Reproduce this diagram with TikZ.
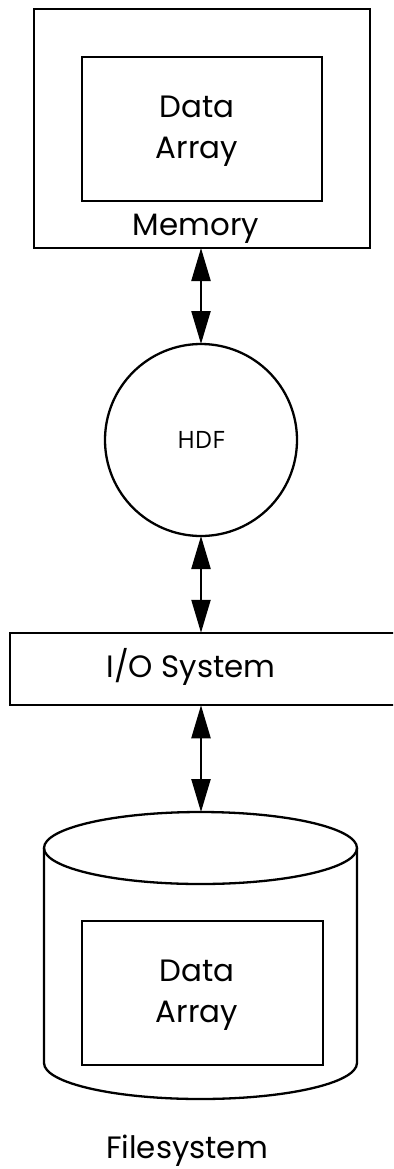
\documentclass[tikz,border=0pt]{standalone}
\usepackage{fontspec}
\setmainfont{Poppins}
\newfontfamily\hdffont{Open Sans}
\usetikzlibrary{arrows.meta}
\begin{document}
\begin{tikzpicture}[x=1bp, y=-1bp,
  box/.style={draw, line width=2.3bp, inner sep=0pt, outer sep=0pt},
  lbl/.style={font=\fontsize{31}{41}\selectfont, align=center, inner sep=0pt},
  link/.style={{Triangle[length=33bp,width=19bp]}-{Triangle[length=33bp,width=19bp]}, line width=2.3bp}]
  \useasboundingbox (0,0) rectangle (393,1169);
  \clip (0,0) rectangle (393,1169);

  % memory with its data array
  \node[box, minimum width=336bp, minimum height=239bp] (mem) at (202,128.5) {};
  \node[box, minimum width=240bp, minimum height=144bp] (memarr) at (202,129) {};
  \node[lbl, anchor=base] at (197,158) {Data\\Array};
  \node[lbl, anchor=base] (memlbl) at (196,235) {Memory};

  % the library
  \node[draw, circle, line width=2.3bp, minimum size=192bp, inner sep=0pt, outer sep=0pt,
        font=\hdffont\fontsize{24}{28}\selectfont] (hdf) at (201,440) {HDF};

  % I/O layer, running off the right edge
  \node[box, minimum width=410bp, minimum height=72.5bp] (io) at (215,669) {};
  \node[lbl, anchor=base] at (191,677) {I/O System};

  % disk cylinder
  \draw[line width=2.3bp] (200.5,848) ellipse [x radius=156.5, y radius=36];
  \draw[line width=2.3bp] (357,848) -- (357,1063)
        arc[start angle=0, end angle=180, x radius=156.5, y radius=36] -- (44,848);
  \coordinate (cyl) at (201,812);
  \node[box, minimum width=241bp, minimum height=144bp] (diskarr) at (202.5,993) {};
  \node[lbl, anchor=base] at (197,1022) {Data\\Array};
  \node[lbl, anchor=base] at (187,1158) {Filesystem};

  % data paths
  \draw[link] (mem.south -| hdf) -- (hdf.north);
  \draw[link] (hdf.south) -- (hdf.south |- io.north);
  \draw[link] (hdf.south |- io.south) -- (cyl);
\end{tikzpicture}
\end{document}
